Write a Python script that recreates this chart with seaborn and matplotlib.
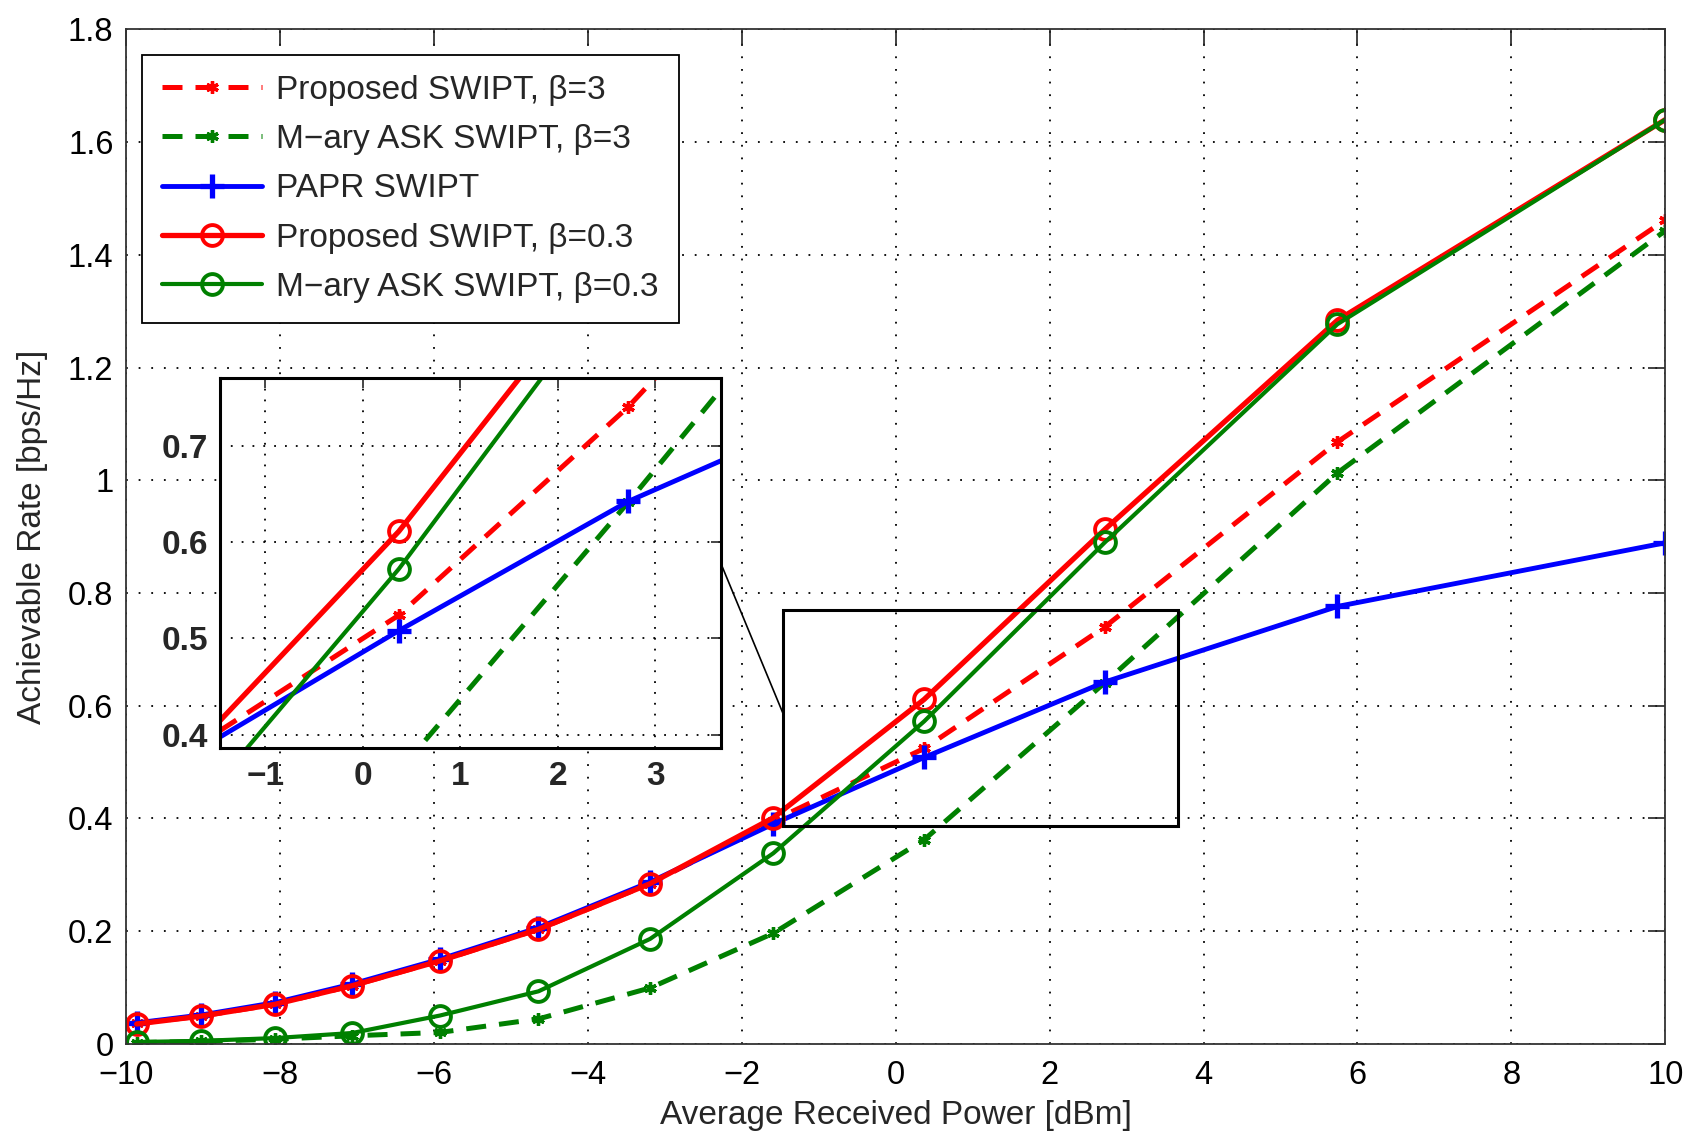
import numpy as np
import pandas as pd
import matplotlib
matplotlib.use("Agg")
import matplotlib.pyplot as plt
import seaborn as sns
from matplotlib.patches import Rectangle, ConnectionPatch

# ---- data ----
power_dbm = [-9.86, -9.02, -8.06, -7.06, -5.92, -4.64, -3.19, -1.59, 0.37, 2.72, 5.74, 10.0]
proposed_b3 = [0.036, 0.049, 0.070, 0.103, 0.147, 0.203, 0.284, 0.396, 0.524, 0.740, 1.068, 1.462]
mary_b3 = [0.002, 0.004, 0.008, 0.014, 0.020, 0.044, 0.099, 0.196, 0.362, 0.641, 1.013, 1.443]
papr = [0.037, 0.051, 0.073, 0.106, 0.150, 0.206, 0.287, 0.390, 0.508, 0.642, 0.776, 0.889]
proposed_b03 = [0.035, 0.049, 0.070, 0.103, 0.147, 0.203, 0.284, 0.401, 0.611, 0.913, 1.284, 1.640]
mary_b03 = [0.003, 0.005, 0.010, 0.019, 0.050, 0.093, 0.186, 0.338, 0.572, 0.890, 1.277, 1.640]

labels = ["Proposed SWIPT, β=3", "M−ary ASK SWIPT, β=3", "PAPR SWIPT",
          "Proposed SWIPT, β=0.3", "M−ary ASK SWIPT, β=0.3"]
series = [proposed_b3, mary_b3, papr, proposed_b03, mary_b03]

x_ticks = [-10, -8, -6, -4, -2, 0, 2, 4, 6, 8, 10]
y_ticks = [0, 0.2, 0.4, 0.6, 0.8, 1.0, 1.2, 1.4, 1.6, 1.8]
y_ticklabels = ["0", "0.2", "0.4", "0.6", "0.8", "1", "1.2", "1.4", "1.6", "1.8"]
inset_xticks = [-1, 0, 1, 2, 3]
inset_yticks = [0.4, 0.5, 0.6, 0.7]

# ---- styles ----
RED, GREEN, BLUE = "#ff0000", "#008000", "#0000ff"
asterisk = (6, 2, 0)
styles = [
    dict(color=RED, linestyle=(0, (4, 2.6)), linewidth=3.6, marker=asterisk, markersize=9,
         markeredgewidth=2.4, markeredgecolor=RED, markerfacecolor=RED),
    dict(color=GREEN, linestyle=(0, (4, 2.6)), linewidth=3.6, marker=asterisk, markersize=9,
         markeredgewidth=2.4, markeredgecolor=GREEN, markerfacecolor=GREEN),
    dict(color=BLUE, linestyle="-", linewidth=3.5, marker="+", markersize=17,
         markeredgewidth=3.8, markeredgecolor=BLUE),
    dict(color=RED, linestyle="-", linewidth=3.8, marker="o", markersize=15,
         markeredgewidth=2.8, markerfacecolor="none", markeredgecolor=RED),
    dict(color=GREEN, linestyle="-", linewidth=3.0, marker="o", markersize=15,
         markeredgewidth=2.8, markerfacecolor="none", markeredgecolor=GREEN),
]

sns.set_theme(style="white")
plt.rcParams["font.family"] = ["Liberation Sans", "DejaVu Sans"]
plt.rcParams["axes.unicode_minus"] = True

fig = plt.figure(figsize=(16.88, 11.32), dpi=100)
ax = fig.add_axes([0.0746, 0.078, 0.912, 0.896])

for lab, ys, st in zip(labels, series, styles):
    sns.lineplot(x=power_dbm, y=ys, ax=ax, label=lab, sort=False, **st)

ax.set_xlim(-10, 10)
ax.set_ylim(0, 1.8)
ax.set_xticks(x_ticks)
ax.set_xticklabels([f"{t}".replace("-", "−") for t in x_ticks])
ax.set_yticks(y_ticks)
ax.set_yticklabels(y_ticklabels)
ax.tick_params(direction="in", length=12, width=1.2, top=True, right=True,
               labelsize=23.5, pad=9, colors="#222222", labelcolor="black")
ax.tick_params(axis="x", pad=12)
ax.grid(True, linestyle=(0, (1, 6)), color="black", linewidth=1.3)
for s in ax.spines.values():
    s.set_color("#333333")
    s.set_linewidth(1.3)
ax.set_xlabel("Average Received Power [dBm]", fontsize=24, labelpad=6)
ax.set_ylabel("Achievable Rate [bps/Hz]", fontsize=24, labelpad=14)

leg = ax.legend(loc="upper left", bbox_to_anchor=(0.0105, 0.975), borderaxespad=0,
                fontsize=24, frameon=True, fancybox=False, handlelength=3.0,
                handletextpad=0.42, labelspacing=0.55, borderpad=0.6)
leg.get_frame().set_edgecolor("black")
leg.get_frame().set_linewidth(1.3)
leg.get_frame().set_alpha(1)

# zoom rectangle
x0, x1, y0, y1 = -1.46, 3.67, 0.386, 0.770
ax.add_patch(Rectangle((x0, y0), x1 - x0, y1 - y0, fill=False, edgecolor="black", linewidth=2.2, zorder=5))

# inset
axins = fig.add_axes([0.1305, 0.339, 0.2965, 0.327])
for lab, ys, st in zip(labels, series, styles):
    sns.lineplot(x=power_dbm, y=ys, ax=axins, sort=False, legend=False, **st)
axins.set_xlim(x0, x1)
axins.set_ylim(y0, y1)
axins.set_xticks(inset_xticks)
axins.set_xticklabels([f"{t}".replace("-", "−") for t in inset_xticks])
axins.set_yticks(inset_yticks)
axins.set_yticklabels([f"{t:.1f}" for t in inset_yticks])
axins.tick_params(direction="in", length=7, width=1.2, top=True, right=True,
                  labelsize=24, pad=9)
for t in axins.get_xticklabels() + axins.get_yticklabels():
    t.set_fontweight("bold")
axins.grid(True, linestyle=(0, (1, 5)), color="black", linewidth=1.3)
for s in axins.spines.values():
    s.set_color("black")
    s.set_linewidth(2.2)
axins.set_xlabel("")
axins.set_ylabel("")
axins.set_facecolor("white")

con = ConnectionPatch(xyA=(1.0, 0.5), coordsA=axins.transAxes,
                      xyB=(x0, 0.585), coordsB=ax.transData,
                      color="black", linewidth=1.2)
fig.add_artist(con)

fig.savefig("out.png", dpi=100)
